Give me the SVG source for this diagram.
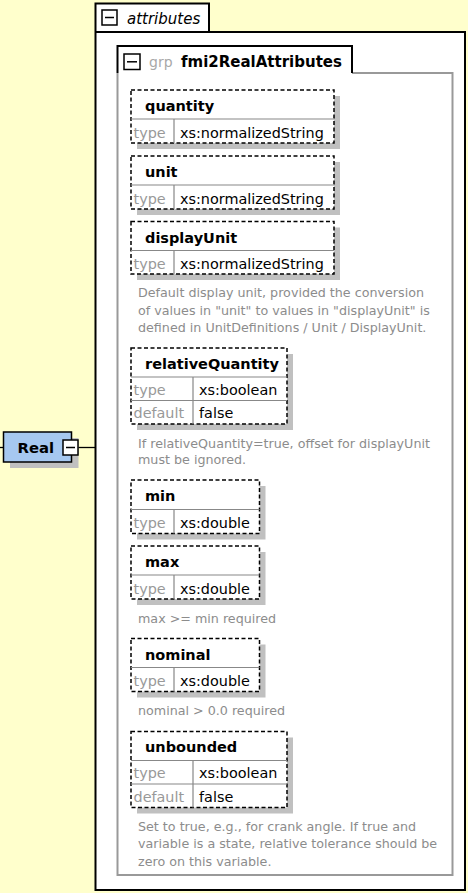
<svg xmlns="http://www.w3.org/2000/svg" width="468" height="893" viewBox="0 0 468 893">
<style>
text{font-family:"DejaVu Sans","Liberation Sans",sans-serif}
.bg{fill:#ffffcc}
.frame{fill:#fff;stroke:#000;stroke-width:2}
.tab{fill:none;stroke:#000;stroke-width:2}
.gbody{fill:none;stroke:#999;stroke-width:2}
.shadow{fill:#c0c0c0}
.node{fill:#fff;stroke:#000;stroke-width:1.5;stroke-dasharray:4 2.5}
.sep{stroke:#888;stroke-width:1.2;fill:none}
.title{font-size:14.5px;font-weight:bold;fill:#000}
.lbl{font-size:14.4px;fill:#999}
.val{font-size:14.4px;fill:#000}
.desc{font-size:12.7px;fill:#8c8c8c}
.minusbox{fill:#fff;stroke:#000;stroke-width:1.5}
.minus{stroke:#000;stroke-width:1.5}
.conn{stroke:#000;stroke-width:1.3;fill:none}
</style>
<rect class="bg" x="0" y="0" width="468" height="893"/>

<g id="attributes">
<path class="frame" d="M95.5,32 V3.5 H209 V32 H465 V890 H95.5 Z"/>
<path class="tab" d="M95.5,32 H209"/>
<rect class="minusbox" x="102" y="10" width="15" height="15"/>
<line class="minus" x1="105" y1="17.5" x2="114" y2="17.5"/>
<text x="127" y="24" style="font-size:15px;font-style:italic;fill:#000">attributes</text>
</g>

<g id="fmi2RealAttributes">
<path class="gbody" d="M352,73 H452.5 V875 H117.5 V73"/>
<path class="tab" d="M117.5,73 V46 H352 V73"/>
<rect class="minusbox" x="124" y="54" width="16" height="15.5"/>
<line class="minus" x1="127" y1="61.8" x2="137" y2="61.8"/>
<text x="149" y="67" style="font-size:14px;fill:#a8a8a8">grp</text>
<text x="181" y="67" style="font-size:15px;font-weight:bold;fill:#000">fmi2RealAttributes</text>
</g>

<g id="connectors">
<line class="conn" x1="0" y1="447.5" x2="3.5" y2="447.5"/>
<line class="conn" x1="78" y1="447.5" x2="95.5" y2="447.5"/>
</g>

<g id="Real">
<rect class="shadow" x="10" y="438" width="68.5" height="30"/>
<rect x="3.5" y="432" width="68" height="30" style="fill:#a6c8f0;stroke:#000;stroke-width:1.5"/>
<text x="17.5" y="452.5" style="font-size:14.8px;font-weight:bold;fill:#000">Real</text>
<rect class="minusbox" x="63" y="440" width="15" height="15"/>
<line class="minus" x1="66" y1="447.5" x2="75" y2="447.5"/>
</g>

<g id="quantity">
<rect class="shadow" x="137" y="96" width="203" height="53"/>
<rect class="node" x="131" y="90" width="203" height="53"/>
<path class="sep" d="M131,119 H334 M174,119 V143"/>
<text class="title" x="145" y="111">quantity</text>
<text class="lbl" x="133.5" y="137.5">type</text>
<text class="val" x="180" y="137.5">xs:normalizedString</text>
</g>

<g id="unit">
<rect class="shadow" x="137" y="162" width="203" height="53"/>
<rect class="node" x="131" y="156" width="203" height="53"/>
<path class="sep" d="M131,185 H334 M174,185 V209"/>
<text class="title" x="145" y="177">unit</text>
<text class="lbl" x="133.5" y="203.5">type</text>
<text class="val" x="180" y="203.5">xs:normalizedString</text>
</g>

<g id="displayUnit">
<rect class="shadow" x="137" y="227.5" width="203" height="52.5"/>
<rect class="node" x="131" y="221.5" width="203" height="52.5"/>
<path class="sep" d="M131,250.5 H334 M174,250.5 V274"/>
<text class="title" x="145" y="242.5">displayUnit</text>
<text class="lbl" x="133.5" y="268.5">type</text>
<text class="val" x="180" y="268.5">xs:normalizedString</text>
<text class="desc" x="138" y="297.3">Default display unit, provided the conversion</text>
<text class="desc" x="138" y="314.5">of values in "unit" to values in "displayUnit" is</text>
<text class="desc" x="138" y="331.5">defined in UnitDefinitions / Unit / DisplayUnit.</text>
</g>

<g id="relativeQuantity">
<rect class="shadow" x="137" y="354" width="156" height="76"/>
<rect class="node" x="131" y="348" width="156" height="76"/>
<path class="sep" d="M131,377 H287 M131,400.5 H287 M193,377 V424"/>
<text class="title" x="145" y="368.5">relativeQuantity</text>
<text class="lbl" x="133.5" y="394.5">type</text>
<text class="val" x="199" y="394.5">xs:boolean</text>
<text class="lbl" x="133.5" y="418">default</text>
<text class="val" x="199" y="418">false</text>
<text class="desc" x="138" y="447.5">If relativeQuantity=true, offset for displayUnit</text>
<text class="desc" x="138" y="464">must be ignored.</text>
</g>

<g id="min">
<rect class="shadow" x="137" y="486" width="128.5" height="53.5"/>
<rect class="node" x="131" y="480" width="128.5" height="53.5"/>
<path class="sep" d="M131,509.5 H259.5 M174,509.5 V533.5"/>
<text class="title" x="145" y="501">min</text>
<text class="lbl" x="133.5" y="528">type</text>
<text class="val" x="180" y="528">xs:double</text>
</g>

<g id="max">
<rect class="shadow" x="137" y="552" width="128.5" height="53"/>
<rect class="node" x="131" y="546" width="128.5" height="53"/>
<path class="sep" d="M131,575 H259.5 M174,575 V599"/>
<text class="title" x="145" y="567">max</text>
<text class="lbl" x="133.5" y="593.5">type</text>
<text class="val" x="180" y="593.5">xs:double</text>
<text class="desc" x="138" y="622.5">max &gt;= min required</text>
</g>

<g id="nominal">
<rect class="shadow" x="137" y="644.5" width="128.5" height="53"/>
<rect class="node" x="131" y="638.5" width="128.5" height="53"/>
<path class="sep" d="M131,667.5 H259.5 M174,667.5 V691.5"/>
<text class="title" x="145" y="659.5">nominal</text>
<text class="lbl" x="133.5" y="686">type</text>
<text class="val" x="180" y="686">xs:double</text>
<text class="desc" x="138" y="715">nominal &gt; 0.0 required</text>
</g>

<g id="unbounded">
<rect class="shadow" x="137" y="737.5" width="156" height="76"/>
<rect class="node" x="131" y="731.5" width="156" height="76"/>
<path class="sep" d="M131,760.5 H287 M131,784 H287 M193,760.5 V807.5"/>
<text class="title" x="145" y="752">unbounded</text>
<text class="lbl" x="133.5" y="778">type</text>
<text class="val" x="199" y="778">xs:boolean</text>
<text class="lbl" x="133.5" y="801.5">default</text>
<text class="val" x="199" y="801.5">false</text>
<text class="desc" x="138" y="831">Set to true, e.g., for crank angle. If true and</text>
<text class="desc" x="138" y="848.3">variable is a state, relative tolerance should be</text>
<text class="desc" x="138" y="865.5">zero on this variable.</text>
</g>
</svg>
